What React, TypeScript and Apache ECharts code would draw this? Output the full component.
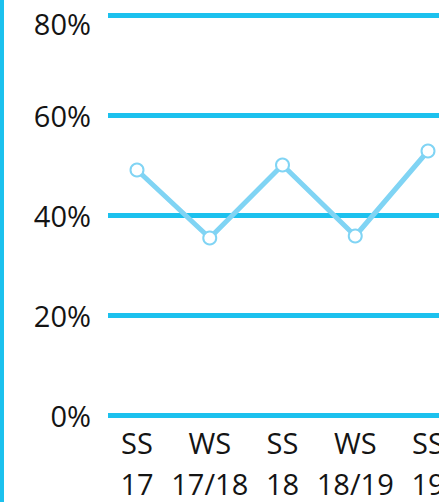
import React, { useEffect, useRef } from "react";
import * as echarts from "echarts";

const categories = ["SS\n17", "WS\n17/18", "SS\n18", "WS\n18/19", "SS\n19"];
const shareValues = [49, 35.4, 50, 35.8, 52.8];
const yTicks = [0, 20, 40, 60, 80];

const FONT = "'Open Sans', 'Noto Sans', sans-serif";
const GRID_COLOR = "#1cc1ee";
const LINE_COLOR = "#80d4f4";
const TEXT_COLOR = "#141414";

export default function App() {
  const ref = useRef<HTMLDivElement>(null);
  useEffect(() => {
    if (!ref.current) return;
    const chart = echarts.init(ref.current, undefined, { renderer: "svg" });
    const yMin = yTicks[0];
    const yMax = yTicks[yTicks.length - 1];
    const yInterval = yTicks[1] - yTicks[0];
    chart.setOption({
      animation: false,
      graphic: [
        {
          type: "rect",
          left: 0,
          top: 0,
          shape: { x: 0, y: 0, width: 4, height: 502 },
          style: { fill: GRID_COLOR },
        },
      ],
      grid: [
        { left: 108, right: 0, top: 15, height: 400, containLabel: false, outerBoundsMode: "none" },
        { left: 137, right: 11, top: 15, height: 400, containLabel: false, outerBoundsMode: "none" },
      ],
      xAxis: [
        { gridIndex: 0, type: "category", data: categories, show: false },
        {
          gridIndex: 1,
          type: "category",
          data: categories,
          boundaryGap: false,
          axisLine: { show: false },
          axisTick: { show: false },
          axisLabel: {
            interval: 0,
            fontSize: 29,
            lineHeight: 41,
            color: TEXT_COLOR,
            fontFamily: FONT,
            margin: 7,
          },
        },
      ],
      yAxis: [
        {
          gridIndex: 0,
          type: "value",
          min: yMin,
          max: yMax,
          interval: yInterval,
          axisLine: { show: false },
          axisTick: { show: false },
          splitLine: { lineStyle: { color: GRID_COLOR, width: 5 } },
          axisLabel: {
            margin: 17,
            fontSize: 29,
            color: TEXT_COLOR,
            fontFamily: FONT,
            formatter: (v: number) => (v === yMax ? `{t|${v}%}` : `{n|${v}%}`),
            rich: {
              t: { fontSize: 29, color: TEXT_COLOR, fontFamily: FONT, padding: [16, 0, 0, 0] },
              n: { fontSize: 29, color: TEXT_COLOR, fontFamily: FONT, padding: [0, 0, 0, 0] },
            },
          },
        },
        {
          gridIndex: 1,
          type: "value",
          min: yMin,
          max: yMax,
          interval: yInterval,
          show: false,
          splitLine: { show: false },
        },
      ],
      series: [
        {
          type: "line",
          xAxisIndex: 1,
          yAxisIndex: 1,
          data: shareValues,
          symbol: "emptyCircle",
          symbolSize: 13,
          lineStyle: { color: LINE_COLOR, width: 5 },
          itemStyle: { color: LINE_COLOR, borderWidth: 3, borderColor: LINE_COLOR },
          z: 3,
        },
      ],
    });
    return () => chart.dispose();
  }, []);
  return (
    <div
      ref={ref}
      style={{ position: "fixed", left: 0, top: 0, width: 439, height: 502, background: "#fff" }}
    />
  );
}
